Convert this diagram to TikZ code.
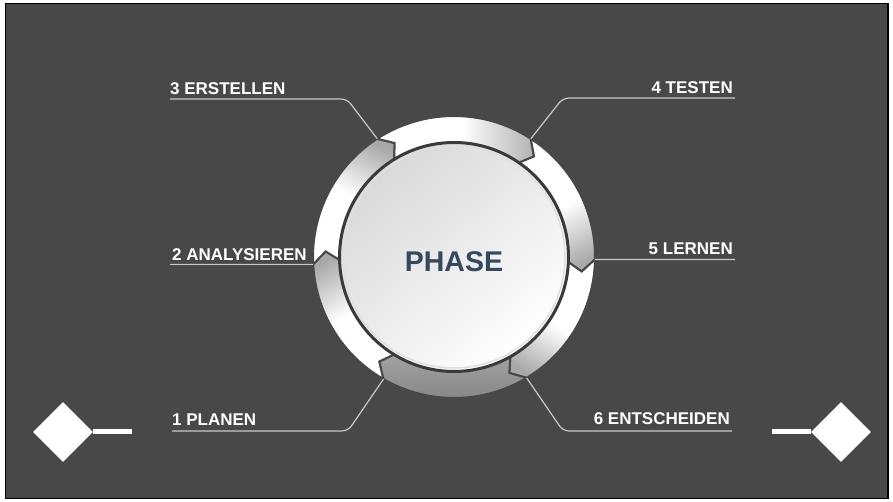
\documentclass[tikz,border=0pt]{standalone}
\usepackage{fontspec}
\setmainfont{Liberation Sans}
\usetikzlibrary{positioning,shapes.geometric}
\definecolor{bgdark}{HTML}{484848}
\definecolor{segend}{HTML}{A8A8A8}
\definecolor{rimdark}{HTML}{3A3A3A}
\definecolor{phaseblue}{HTML}{34495E}
\definecolor{leadgray}{HTML}{C8C8C8}
\pgfdeclarehorizontalshading{segfade}{100bp}{color(0bp)=(white); color(52bp)=(white); color(78bp)=(segend); color(100bp)=(segend)}
\tikzset{
  steplabel/.style={font=\fontsize{17}{20}\selectfont\bfseries, text=white, inner sep=0pt},
  leader/.style={draw=leadgray, line width=1.2pt, rounded corners=6pt},
  ringpart/.style={draw=bgdark, line width=2pt},
  hubdisk/.style={circle, minimum size=229pt, inner sep=0pt, draw=rimdark, line width=3pt, top color=black!15, bottom color=white, shading angle=40},
  phasetext/.style={font=\fontsize{28.5}{32}\selectfont\bfseries, text=phaseblue, inner sep=0pt},
  endmark/.style={diamond, fill=white, minimum width=60pt, minimum height=60pt, inner sep=0pt},
  endbar/.style={draw=white, line width=5pt}
}
\begin{document}
\begin{tikzpicture}[x=1pt, y=1pt]
  \useasboundingbox (0,0) rectangle (893,502);
  \fill[white] (0,0) rectangle (893,502);
  \filldraw[fill=bgdark, draw=black, line width=1.5pt] (5.5,3.5) rectangle (888,498.5);

  \coordinate (ctr) at (454,245);

  % ring of arrow segments, clockwise
  \begin{scope}[shift={(ctr)}]
    \foreach \s/\e in {240/183, 183/123, 123/57, 57/-1, -1/-59}{
      \pgfmathsetmacro{\dir}{(\s+\e)/2-90}
      \shadedraw[ringpart, shading=segfade, shading angle=\dir]
        (\s:141) arc[start angle=\s, end angle=\e, radius=141] -- (\e-5.5:128.5)
        -- (\e:110) arc[start angle=\e, end angle=\s, radius=110] -- (\s-5.5:128.5) -- cycle;
    }
    \shadedraw[ringpart, top color=black!36, bottom color=black!48]
      (-59:141) arc[start angle=-59, end angle=-120, radius=141] -- (-125.5:128.5)
      -- (-120:110) arc[start angle=-120, end angle=-59, radius=110] -- (-64.5:128.5) -- cycle;

    \coordinate (r1) at (240:141);
    \coordinate (r2) at (183:141);
    \coordinate (r3) at (123:141);
    \coordinate (r4) at (57:141);
    \coordinate (r5) at (-1:141);
    \coordinate (r6) at (-59:141);
  \end{scope}

  \node[hubdisk] (core) at (ctr) {};
  \draw[black!12, line width=1.5pt] (ctr) circle[radius=111];
  \node[phasetext] (title) at (454,240) {PHASE};

  % step labels with leader lines
  \node[steplabel, anchor=base west] (l1) at (172,76) {1 PLANEN};
  \node[steplabel, anchor=base west] (l2) at (172,241.5) {2 ANALYSIEREN};
  \node[steplabel, anchor=base west] (l3) at (170,407) {3 ERSTELLEN};
  \node[steplabel, anchor=base east] (l4) at (733,408) {4 TESTEN};
  \node[steplabel, anchor=base east] (l5) at (733,247) {5 LERNEN};
  \node[steplabel, anchor=base east] (l6) at (730,77) {6 ENTSCHEIDEN};

  \coordinate (u1) at (172,71);   \coordinate (k1) at (348,71);
  \coordinate (u2) at (170,237.6);
  \coordinate (u3) at (170,403);  \coordinate (k3) at (347,403);
  \coordinate (u4) at (735,404);  \coordinate (k4) at (563,404);
  \coordinate (u5) at (735,242.5);
  \coordinate (u6) at (732,71);   \coordinate (k6) at (563,71);

  \draw[leader] (u1) -- (k1) -- (r1);
  \draw[leader] (u2) -- (r2);
  \draw[leader] (u3) -- (k3) -- (r3);
  \draw[leader] (u4) -- (k4) -- (r4);
  \draw[leader] (u5) -- (r5);
  \draw[leader] (u6) -- (k6) -- (r6);

  % end markers
  \node[endmark] (dl) at (63,70) {};
  \coordinate (bl) at (132,70);
  \draw[endbar] (dl.east) -- (bl);
  \node[endmark] (dr) at (841,70) {};
  \coordinate (br) at (772,70);
  \draw[endbar] (br) -- (dr.west);
\end{tikzpicture}
\end{document}
